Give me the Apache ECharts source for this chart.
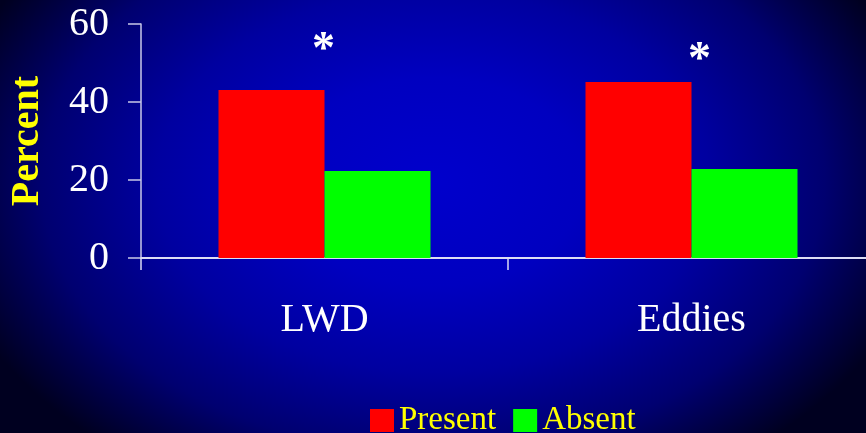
<!DOCTYPE html>
<html>
<head>
<meta charset="utf-8">
<script src="https://cdn.jsdelivr.net/npm/echarts@6/dist/echarts.min.js"></script>
<style>
  html, body { margin: 0; padding: 0; width: 866px; height: 433px; overflow: hidden; }
  body { background: radial-gradient(ellipse 58% 80% at 50% 42%, #0000cc 0%, #0000c0 30%, #0000a0 55%, #000070 78%, #000020 100%); }
  #chart { width: 866px; height: 433px; }
</style>
</head>
<body>
<div id="chart"></div>
<script>
const categories = ['LWD', 'Eddies'];
const presentValues = [43.1, 45.1];
const absentValues = [22.3, 22.8];
const starHeights = [55.4, 52.8];
const yTicks = [0, 20, 40, 60];

const serif = '"Liberation Serif", "Times New Roman", serif';
const chart = echarts.init(document.getElementById('chart'), null, { renderer: 'canvas' });

chart.setOption({
  backgroundColor: 'transparent',
  animation: false,
  grid: { left: 141, top: 24, height: 234, width: 734, containLabel: false, outerBoundsMode: 'none' },
  legend: {
    data: ['Present', 'Absent'],
    left: 370,
    top: 404,
    padding: 0,
    itemWidth: 24,
    itemHeight: 23,
    itemGap: 17,
    icon: 'rect',
    textStyle: { color: '#ffff00', fontSize: 33, fontFamily: serif }
  },
  xAxis: {
    type: 'category',
    data: categories,
    boundaryGap: true,
    axisLine: { lineStyle: { color: '#dcdcf4', width: 2 } },
    axisTick: { show: true, length: 12, alignWithLabel: false, lineStyle: { color: '#dcdcf4', width: 1.5 } },
    axisLabel: { color: '#ffffff', fontSize: 40, fontFamily: serif, margin: 42 },
    splitLine: { show: false }
  },
  yAxis: {
    type: 'value',
    min: yTicks[0],
    max: yTicks[yTicks.length - 1],
    interval: 20,
    name: 'Percent',
    nameLocation: 'middle',
    nameRotate: 90,
    nameGap: 93,
    nameTextStyle: { color: '#ffff00', fontSize: 40, fontWeight: 'bold', fontFamily: serif },
    axisLine: { show: true, lineStyle: { color: '#c8c8e8', width: 1.5 } },
    axisTick: { show: true, length: 13, lineStyle: { color: '#c8c8e8', width: 1.5 } },
    axisLabel: { color: '#ffffff', fontSize: 40, fontFamily: serif, margin: 32 },
    splitLine: { show: false }
  },
  series: [
    {
      name: 'Present', type: 'bar', data: presentValues,
      barWidth: 106, barGap: '0%',
      itemStyle: { color: '#ff0000' }
    },
    {
      name: 'Absent', type: 'bar', data: absentValues,
      barWidth: 106, barGap: '0%',
      itemStyle: { color: '#00ff00' }
    },
    {
      name: 'sig', type: 'scatter',
      data: starHeights.map((v, i) => ({
        value: v,
        label: { offset: [i === 0 ? -1 : 8, 9] }
      })),
      symbolSize: 0,
      itemStyle: { color: '#ffffff', opacity: 1 },
      label: {
        show: true, position: 'inside', formatter: '*',
        color: '#ffffff', opacity: 1, fontSize: 46, fontWeight: 'bold', fontFamily: serif
      },
      emphasis: { disabled: true },
      silent: true
    }
  ]
});
</script>
</body>
</html>
